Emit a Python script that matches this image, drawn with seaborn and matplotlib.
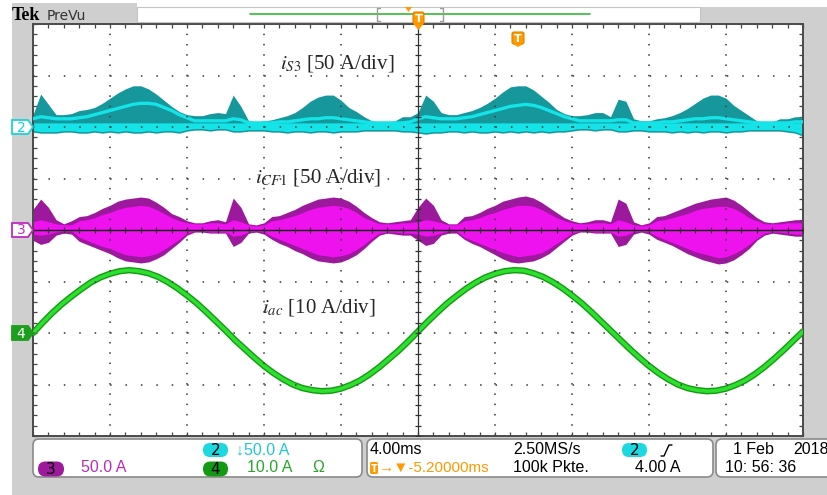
import numpy as np
import pandas as pd
import matplotlib
matplotlib.use("Agg")
import matplotlib.pyplot as plt
import seaborn as sns
from matplotlib.patches import Rectangle, FancyBboxPatch, Polygon

# ---------------- data read from the screen ----------------
# time base 4 ms/div, 10 divisions
env_time_ms = np.linspace(0, 40, 101)
sine_time_ms = np.linspace(0, 40, 81)

# channel 2: i_S3 (A), 50 A/div
i_s3_upper = [12, 32, 22, 12, 12, 13, 16, 17, 19, 23, 28,
              33, 37, 40, 40, 37, 32, 26, 20, 15, 12,
              11, 11, 13, 14, 13, 31, 20, 6, 5, 6,
              7, 9, 11, 14, 19, 25, 29, 31, 31, 26,
              19, 15, 10, 6, 5, 5, 6, 10, 10, 14,
              31, 25, 14, 12, 12, 14, 16, 19, 23, 28,
              34, 39, 40, 40, 36, 30, 24, 17, 13, 11,
              11, 12, 14, 14, 10, 27, 25, 8, 6, 6,
              8, 9, 11, 14, 18, 23, 28, 31, 31, 28,
              21, 16, 11, 6, 5, 5, 8, 8, 10, 10]
i_s3_lower = [-5, -6, -6, -6, -5, -5, -6, -6, -5, -6, -5,
              -6, -5, -6, -6, -5, -6, -5, -5, -6, -4,
              -3, -3, -4, -3, -3, -5, -5, -4, -4, -4,
              -5, -5, -6, -5, -5, -6, -5, -5, -6, -5,
              -5, -5, -4, -4, -4, -4, -4, -5, -5, -6,
              -7, -6, -6, -5, -5, -6, -5, -6, -6, -5,
              -6, -5, -6, -5, -6, -5, -6, -5, -5, -4,
              -3, -3, -4, -3, -3, -5, -5, -4, -4, -5,
              -5, -5, -6, -5, -6, -5, -6, -5, -5, -6,
              -5, -5, -4, -4, -4, -4, -4, -5, -6, -9]
i_s3_mean = [8, 10, 9, 8, 8, 8, 9, 10, 12, 14, 16,
             18, 20, 22, 23, 23, 22, 19, 16, 12, 9,
             6, 6, 6, 6, 6, 8, 7, 4, 4, 4,
             4, 5, 5, 6, 7, 8, 8, 9, 9, 8,
             7, 6, 5, 4, 4, 4, 4, 4, 5, 8,
             10, 9, 8, 8, 8, 9, 10, 12, 14, 16,
             18, 20, 21, 22, 21, 19, 16, 13, 10, 8,
             6, 6, 6, 6, 6, 7, 7, 4, 4, 4,
             4, 5, 5, 6, 7, 8, 8, 9, 9, 8,
             7, 6, 5, 4, 4, 4, 4, 4, 5, 5]

# channel 3: i_CF1 (A), 50 A/div
i_cf1_upper = [20, 30, 22, 10, 6, 9, 13, 14, 17, 21, 24,
               28, 30, 31, 32, 31, 27, 22, 16, 13, 9,
               7, 7, 9, 10, 8, 31, 22, 6, 5, 7,
               13, 14, 17, 20, 24, 27, 30, 31, 32, 31,
               28, 23, 17, 12, 8, 7, 8, 9, 10, 22,
               31, 24, 10, 6, 6, 13, 14, 17, 21, 24,
               28, 30, 32, 33, 31, 27, 22, 17, 12, 9,
               7, 8, 10, 10, 8, 30, 26, 8, 5, 7,
               13, 14, 17, 20, 23, 26, 28, 30, 31, 32,
               29, 24, 18, 12, 8, 7, 8, 9, 10, 10]
i_cf1_lower = [-10, -14, -12, -5, -3, -4, -11, -14, -17, -20, -23,
               -27, -30, -31, -32, -31, -28, -24, -18, -12, -5,
               -2, -2, -3, -3, -3, -16, -12, -3, -2, -4,
               -9, -13, -16, -20, -23, -27, -30, -31, -32, -31,
               -28, -24, -18, -11, -5, -3, -4, -5, -5, -10,
               -15, -13, -5, -3, -3, -9, -13, -16, -20, -24,
               -28, -31, -32, -31, -30, -27, -23, -17, -11, -5,
               -2, -2, -3, -3, -3, -16, -14, -4, -2, -4,
               -9, -12, -15, -19, -23, -26, -29, -31, -33, -32,
               -29, -24, -18, -10, -5, -3, -4, -5, -6, -6]
i_cf1_inner_upper = [8, 10, 8, 6, 5, 5, 9, 10, 12, 15, 17,
                     20, 22, 23, 24, 23, 20, 16, 12, 9, 7,
                     6, 6, 7, 7, 6, 10, 8, 5, 4, 5,
                     9, 10, 12, 14, 17, 20, 22, 23, 24, 23,
                     21, 17, 12, 9, 6, 6, 6, 7, 7, 8,
                     10, 9, 7, 5, 5, 9, 10, 12, 15, 17,
                     20, 22, 24, 24, 23, 20, 16, 12, 9, 7,
                     6, 6, 7, 7, 6, 10, 8, 5, 4, 5,
                     9, 10, 12, 14, 16, 19, 21, 22, 23, 23,
                     21, 17, 12, 9, 6, 6, 6, 7, 7, 7]
i_cf1_inner_lower = [-4, -5, -4, -2, -1, -1, -7, -10, -13, -16, -18,
                     -21, -24, -25, -26, -25, -23, -19, -14, -9, -3,
                     -1, -1, -2, -2, -2, -6, -5, -2, -1, -2,
                     -6, -9, -12, -15, -18, -21, -24, -25, -26, -25,
                     -23, -19, -14, -8, -3, -2, -2, -3, -3, -4,
                     -6, -5, -3, -1, -1, -7, -10, -13, -16, -19,
                     -22, -24, -26, -25, -24, -22, -18, -13, -8, -3,
                     -1, -1, -2, -2, -2, -6, -5, -2, -1, -2,
                     -6, -9, -12, -15, -18, -21, -23, -25, -27, -26,
                     -23, -19, -14, -8, -3, -2, -2, -3, -4, -4]

# channel 4: i_ac (A), 10 A/div
i_ac = [0.0, 2.0, 3.9, 5.6, 7.1, 8.5, 9.8, 10.8, 11.5, 12.0, 12.2,
        12.0, 11.6, 10.9, 9.9, 8.7, 7.3, 5.8, 4.1, 2.3, 0.5,
        -1.4, -3.1, -4.8, -6.4, -7.8, -9.0, -10.0, -10.7, -11.1, -11.3,
        -11.2, -10.8, -10.1, -9.2, -8.0, -6.6, -5.0, -3.4, -1.6, 0.3,
        2.2, 4.0, 5.7, 7.2, 8.6, 9.8, 10.8, 11.5, 12.0, 12.2,
        12.1, 11.6, 10.9, 9.9, 8.7, 7.3, 5.8, 4.1, 2.3, 0.5,
        -1.3, -3.1, -4.8, -6.4, -7.8, -9.0, -10.0, -10.7, -11.1, -11.3,
        -11.2, -10.8, -10.1, -9.2, -8.0, -6.6, -5.0, -3.3, -1.5, 0.3]

trace_labels = [r"$i_{\mathit{S3}}$ [50 A/div]",
                r"$i_{\mathit{CF1}}$ [50 A/div]",
                r"$i_{\mathit{ac}}$ [10 A/div]"]

ch2_scale, ch2_pos = 50.0, 2.0
ch3_scale, ch3_pos = 50.0, 0.0
ch4_scale, ch4_pos = 10.0, -2.0

# ---------------- figure ----------------
sns.set_theme(style="white")
plt.rcParams["font.family"] = ["Liberation Sans", "DejaVu Sans"]
plt.rcParams["mathtext.fontset"] = "stix"
plt.rcParams["lines.scale_dashes"] = False

W, H = 827, 495
fig = plt.figure(figsize=(W / 100, H / 100), dpi=100)
fig.patch.set_facecolor("white")

bg = fig.add_axes([0, 0, 1, 1])
bg.set_xlim(0, W); bg.set_ylim(H, 0); bg.axis("off"); bg.set_zorder(0)

L, R, T, B = 33, 803, 24, 436
ax = fig.add_axes([L / W, 1 - B / H, (R - L) / W, (B - T) / H])
ax.set_zorder(1)
ax.set_facecolor("white")

ov = fig.add_axes([0, 0, 1, 1])
ov.set_xlim(0, W); ov.set_ylim(H, 0); ov.axis("off"); ov.set_zorder(2)
ov.patch.set_alpha(0)

# grey instrument panel
bg.add_patch(Rectangle((12, 7), W - 12, H - 7, fc="#cfcfcf", ec="none", zorder=0))
bg.add_patch(Rectangle((12, 3), 125, 5, fc="#cfcfcf", ec="none", zorder=0))

t = env_time_ms
# channel 2
up2 = ch2_pos + np.array(i_s3_upper) / ch2_scale
lo2 = ch2_pos + np.array(i_s3_lower) / ch2_scale
ax.fill_between(t, lo2, up2, color="#15979b", lw=0, zorder=2)
ax.fill_between(t, lo2 + 0.03, ch2_pos + np.minimum(np.array(i_s3_upper), 4) / ch2_scale,
                color="#14e3e8", lw=0, zorder=2)
df2 = pd.DataFrame({"t": t, "y": ch2_pos + np.array(i_s3_mean) / ch2_scale})
sns.lineplot(data=df2, x="t", y="y", ax=ax, color="#14e3e8", lw=2.4,
             estimator=None, sort=False, zorder=3)

# channel 3
ax.fill_between(t, ch3_pos + np.array(i_cf1_lower) / ch3_scale,
                ch3_pos + np.array(i_cf1_upper) / ch3_scale,
                color="#9c189c", lw=0, zorder=2)
ax.fill_between(t, ch3_pos + np.array(i_cf1_inner_lower) / ch3_scale,
                ch3_pos + np.array(i_cf1_inner_upper) / ch3_scale,
                color="#ee12ee", lw=0, zorder=2)

# channel 4
df4 = pd.DataFrame({"t": sine_time_ms, "y": ch4_pos + np.array(i_ac) / ch4_scale})
sns.lineplot(data=df4, x="t", y="y", ax=ax, color="#149a14", lw=4.6,
             estimator=None, sort=False, zorder=3)
sns.lineplot(data=df4, x="t", y="y", ax=ax, color="#2ee02e", lw=2.6,
             estimator=None, sort=False, zorder=3)

ax.set_xlim(0, 40)
ax.set_ylim(-4, 4)
ax.set_xlabel("")
ax.set_ylabel("")

# graticule
ax.set_xticks(np.arange(0, 41, 4))
ax.set_xticks(np.arange(0, 40.01, 0.8), minor=True)
ax.set_yticks(np.arange(-4, 5, 1))
ax.set_yticks(np.arange(-4, 4.01, 0.2), minor=True)
ax.tick_params(which="both", direction="in", length=3, width=0.9, color="#444444",
               top=True, right=True, bottom=True, left=True,
               labelbottom=False, labelleft=False)
for xv in range(4, 40, 4):
    if xv != 20:
        ax.axvline(xv, color="#444444", lw=1.2, ls=(0, (1.1, 6.3)), zorder=6)
for yv in [-3, -2, -1, 1, 2, 3]:
    ax.axhline(yv, color="#444444", lw=1.2, ls=(0, (1.1, 10.0)), zorder=6)
ax.axvline(20, color="#333333", lw=0.9, zorder=7)
ax.axhline(0, color="#111111", lw=1.0, zorder=7)
ax.plot(np.arange(0, 40.01, 0.8), np.zeros(51), ls="none", marker="|", ms=5,
        mew=0.9, color="#333333", zorder=7)
ax.plot(np.full(41, 20.0), np.arange(-4, 4.01, 0.2), ls="none", marker="_", ms=5,
        mew=0.9, color="#333333", zorder=7)
for s in ax.spines.values():
    s.set_color("#4a4a4a")
    s.set_linewidth(1.4)
    s.set_visible(True)

# trace labels
ov.text(280, 68, trace_labels[0], fontsize=15, family="Liberation Serif", va="baseline")
ov.text(255, 182, trace_labels[1], fontsize=15, family="Liberation Serif", va="baseline")
ov.text(262, 313, trace_labels[2], fontsize=15, family="Liberation Serif", va="baseline")

# channel markers
def chmark(yc, fc, ec, tc, lab):
    ov.add_patch(Polygon([(12, yc - 7), (28, yc - 7), (33, yc), (28, yc + 7), (12, yc + 7)],
                         closed=True, fc=fc, ec=ec, lw=1.3, zorder=5))
    ov.text(21, yc + 0.5, lab, fontsize=10, color=tc, ha="center", va="center",
            family="DejaVu Sans", zorder=6)

chmark(127, "white", "#17d4dc", "#17d4dc", "2")
chmark(230, "white", "#c02cc0", "#c02cc0", "3")
chmark(333, "#1e9e1e", "#1e9e1e", "white", "4")

# top record bar
ov.text(12, 20, "Tek", fontsize=13, weight="bold", family="Liberation Serif", color="black")
ov.text(47, 20, "PreVu", fontsize=10, family="DejaVu Sans", color="#333333")
ov.add_patch(Rectangle((137, 7), 563, 15, fc="white", ec="#c4c4c4", lw=0.8, zorder=3))
ov.plot([250, 590], [14, 14], color="#33bb33", lw=1.2, zorder=4)
ov.plot([380, 377, 377, 380], [8, 8, 21, 21], color="#9a9a9a", lw=1.0, zorder=4)
ov.plot([440, 443, 443, 440], [8, 8, 21, 21], color="#9a9a9a", lw=1.0, zorder=4)
ov.add_patch(Polygon([(405, 7), (412, 7), (408.5, 12)], closed=True, fc="#ff9a00", ec="none", zorder=5))

# trigger markers
def tmark(x0, y0, w, h, tip):
    ov.add_patch(FancyBboxPatch((x0, y0), w, h, boxstyle="round,pad=0,rounding_size=2",
                                fc="#ff9a00", ec="#e08000", lw=0.8, zorder=6))
    ov.add_patch(Polygon([(x0, y0 + h - 0.5), (x0 + w, y0 + h - 0.5), (x0 + w / 2, y0 + h + tip)],
                         closed=True, fc="#ff9a00", ec="none", zorder=6))
    ov.text(x0 + w / 2, y0 + h / 2 + 0.5, "T", fontsize=8, weight="bold", color="white",
            ha="center", va="center", family="DejaVu Sans", zorder=7)

tmark(413, 12, 11, 12, 6)
tmark(512, 32, 12, 12, 3)

# bottom info boxes
def rbox(x0, y0, x1, y1):
    ov.add_patch(FancyBboxPatch((x0, y0), x1 - x0, y1 - y0,
                                boxstyle="round,pad=0,rounding_size=6",
                                fc="white", ec="#8a8a8a", lw=1.2, zorder=3))

rbox(33, 439, 362, 477)
rbox(367, 439, 713, 477)
rbox(716, 439, 840, 477)

def pill(xc, yc, w, h, fc, lab):
    ov.add_patch(FancyBboxPatch((xc - w / 2, yc - h / 2), w, h,
                                boxstyle="round,pad=0,rounding_size=%f" % (h / 2),
                                fc=fc, ec="none", zorder=4))
    ov.text(xc, yc + 0.5, lab, fontsize=11, color="black", ha="center", va="center",
            family="DejaVu Sans", zorder=5)

r1, r2 = 450, 468
fs = 11.5
pill(215.5, r1, 25, 14, "#1cd8e0", "2")
ov.text(236, r1, "\u219350.0 A", fontsize=fs, color="#1ec8d4", va="center", zorder=5,
        family=["Liberation Sans", "DejaVu Sans"])
pill(51, r2 + 1, 26, 15, "#9b1b9b", "3")
ov.text(81, r2, "50.0 A", fontsize=fs, color="#b82db8", va="center", zorder=5)
pill(215.5, r2 + 1, 25, 15, "#129a12", "4")
ov.text(247, r2, "10.0 A", fontsize=fs, color="#2aa52a", va="center", zorder=5)
ov.text(312, r2, "\u03a9", fontsize=fs, color="#2aa52a", va="center", zorder=5)

ov.text(370, r1, "4.00ms", fontsize=fs, color="black", va="center", zorder=5)
ov.text(513, r1, "2.50MS/s", fontsize=fs, color="black", va="center", zorder=5)
pill(634.5, r1, 25, 14, "#1cd8e0", "2")
ov.plot([661, 664, 669, 672], [456, 456, 445, 445], color="black", lw=1.0, zorder=5)
ov.add_patch(FancyBboxPatch((370, 462), 8, 12, boxstyle="round,pad=0,rounding_size=1.5",
                            fc="#ff9a00", ec="none", zorder=4))
ov.text(374, r2 + 0.5, "T", fontsize=7, weight="bold", color="white", ha="center",
        va="center", family="DejaVu Sans", zorder=5)
ov.text(379, r2, "\u2192\u25bc-5.20000ms", fontsize=11, color="#ff9a00", va="center",
        zorder=5, family=["Liberation Sans", "DejaVu Sans"])
ov.text(513, r2, "100k Pkte.", fontsize=fs, color="black", va="center", zorder=5)
ov.text(635, r2, "4.00 A", fontsize=fs, color="black", va="center", zorder=5)

ov.text(733, r1, "1 Feb", fontsize=fs, color="black", va="center", zorder=5)
ov.text(793, r1, "2018", fontsize=fs, color="black", va="center", zorder=5)
ov.text(725, r2, "10: 56: 36", fontsize=fs, color="black", va="center", zorder=5)

fig.savefig("out.png", dpi=100)
